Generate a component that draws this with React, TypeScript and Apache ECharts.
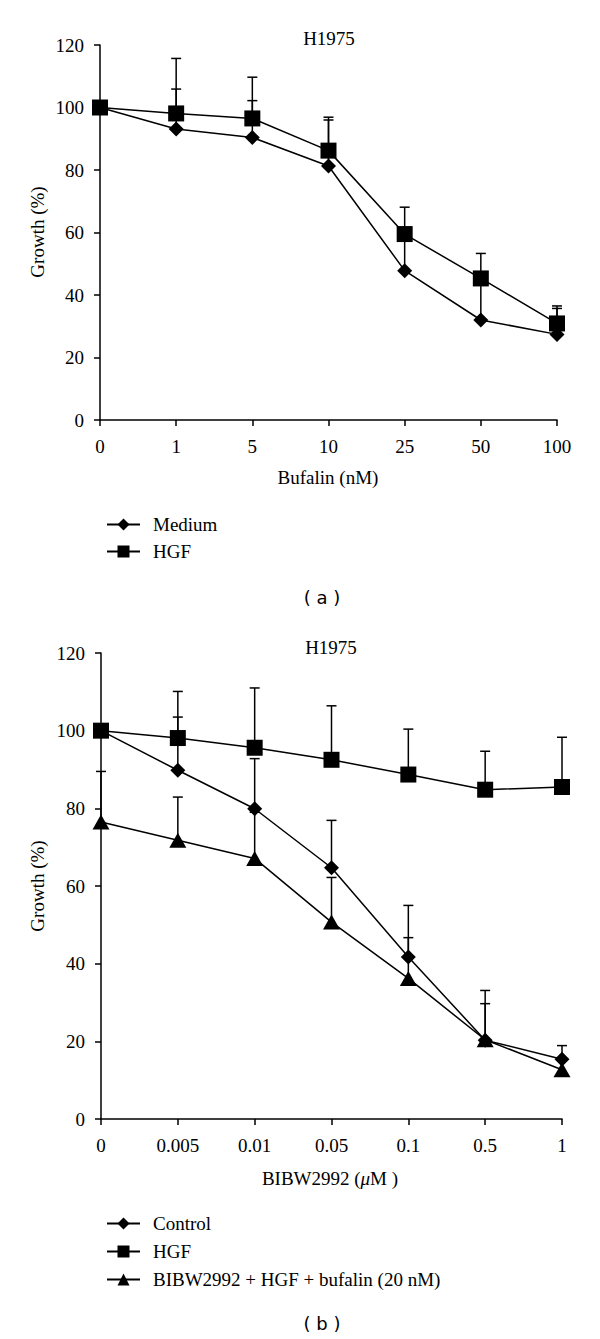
import React, { useEffect, useRef } from "react";
import * as echarts from "echarts";

const categoriesA = ["0", "1", "5", "10", "25", "50", "100"];
const mediumA = [100, 93.1, 90.4, 81.3, 47.8, 32.0, 27.4];
const hgfA = [100, 98.1, 96.5, 86.2, 59.5, 45.3, 30.9];
const mediumErrA = [null, 105.9, 102.2, 96.0, 60, 46, 35.7];
const hgfErrA = [null, 115.7, 109.7, 96.9, 68.1, 53.3, 36.5];

const categoriesB = ["0", "0.005", "0.01", "0.05", "0.1", "0.5", "1"];
const controlB = [100, 89.8, 79.9, 64.7, 41.7, 20.3, 15.4];
const hgfB = [100, 98.1, 95.6, 92.5, 88.7, 84.8, 85.5];
const comboB = [76.5, 71.8, 67.1, 50.7, 36.2, 20.4, 12.7];
const controlErrB = [null, 103.5, 92.8, 76.9, 55.0, 33.1, 18.9];
const hgfErrB = [null, 110.1, 111.0, 106.4, 100.4, 94.7, 98.3];
const comboErrB = [89.5, 82.9, 79, 62.2, 46.7, 29.7, null];

const yTicks = [0, 20, 40, 60, 80, 100, 120];

const SERIF = '"Liberation Serif", "Times New Roman", serif';
const FS = 19;

function errData(vals: number[], tops: (number | null)[]) {
  const out: any[] = [];
  vals.forEach((v, i) => {
    const t = tops[i];
    if (t != null) out.push([i, v, t]);
  });
  return out;
}

const renderErr = (params: any, api: any) => {
  const x = api.value(0);
  const v = api.value(1);
  const t = api.value(2);
  const p0 = api.coord([x, v]);
  const p1 = api.coord([x, t]);
  const st = { stroke: "#000", lineWidth: 1.5 };
  return {
    type: "group",
    children: [
      { type: "line", shape: { x1: p0[0], y1: p0[1], x2: p1[0], y2: p1[1] }, style: st },
      { type: "line", shape: { x1: p1[0] - 5, y1: p1[1], x2: p1[0] + 5, y2: p1[1] }, style: st },
    ],
  };
};

function lineSeries(name: string, data: number[], symbol: string, size: any, idx: number) {
  return {
    type: "line",
    name,
    data,
    xAxisIndex: idx,
    yAxisIndex: idx,
    symbol,
    symbolSize: size,
    showSymbol: true,
    itemStyle: { color: "#000" },
    lineStyle: { color: "#000", width: 1.5 },
    z: 3,
  };
}

function errSeries(vals: number[], tops: (number | null)[], idx: number) {
  return {
    type: "custom",
    xAxisIndex: idx,
    yAxisIndex: idx,
    renderItem: renderErr,
    data: errData(vals, tops),
    encode: { x: 0, y: [1, 2] },
    z: 2,
    silent: true,
  };
}

function xAxisCfg(cats: string[], idx: number) {
  return {
    type: "category",
    gridIndex: idx,
    data: cats,
    boundaryGap: false,
    axisLine: { lineStyle: { color: "#000", width: 1.5 } },
    axisTick: { show: true, length: 6, interval: 0, lineStyle: { color: "#000", width: 1.5 } },
    axisLabel: { color: "#000", fontFamily: SERIF, fontSize: FS, margin: 17, interval: 0 },
    splitLine: { show: false },
  };
}

function yAxisCfg(idx: number) {
  return {
    type: "value",
    gridIndex: idx,
    min: yTicks[0],
    max: yTicks[yTicks.length - 1],
    interval: 20,
    axisLine: { show: true, lineStyle: { color: "#000", width: 1.5 } },
    axisTick: { show: true, length: 6, lineStyle: { color: "#000", width: 1.5 } },
    axisLabel: { color: "#000", fontFamily: SERIF, fontSize: FS, margin: 16 },
    splitLine: { show: false },
  };
}

function txt(text: string, x: number, y: number, font: string, rotation = 0, rich?: any) {
  return {
    type: "text",
    x,
    y,
    rotation,
    style: {
      text,
      font,
      fill: "#000",
      textAlign: "center",
      textVerticalAlign: "middle",
      align: "center",
      verticalAlign: "middle",
      rich,
    },
  };
}

export default function App() {
  const ref = useRef<HTMLDivElement>(null);
  useEffect(() => {
    if (!ref.current) return;
    const chart = echarts.init(ref.current, undefined, { renderer: "svg" });
    const font = `${FS}px ${SERIF}`;
    chart.setOption({
      animation: false,
      backgroundColor: "#fff",
      grid: [
        { left: 100, right: 43, top: 45, height: 375 },
        { left: 101, right: 38, top: 653, height: 466 },
      ],
      xAxis: [xAxisCfg(categoriesA, 0), xAxisCfg(categoriesB, 1)],
      yAxis: [yAxisCfg(0), yAxisCfg(1)],
      legend: [
        {
          orient: "vertical",
          left: 101,
          top: 510,
          itemWidth: 33,
          itemHeight: 15,
          itemGap: 8,
          data: ["Medium", "HGF"],
          textStyle: { color: "#000", fontFamily: SERIF, fontSize: FS, padding: [0, 0, 0, 8] },
          selectedMode: false,
        },
        {
          orient: "vertical",
          left: 101,
          top: 1209,
          itemWidth: 33,
          itemHeight: 15,
          itemGap: 9,
          data: ["Control", "HGF", "BIBW2992 + HGF + bufalin (20 nM)"],
          textStyle: { color: "#000", fontFamily: SERIF, fontSize: FS, padding: [0, 0, 0, 8] },
          selectedMode: false,
        },
      ],
      graphic: [
        txt("H1975", 329, 38, font),
        txt("Growth (%)", 37, 232, font, Math.PI / 2),
        txt("Bufalin (nM)", 328, 477, font),
        txt("( a )", 322, 597, '18px "DejaVu Sans", sans-serif'),
        txt("H1975", 331, 647, font),
        txt("Growth (%)", 37, 886, font, Math.PI / 2),
        txt("{a|BIBW2992 (}{b|μ}{a|M )}", 330, 1178, font, 0, {
          a: { font, fill: "#000" },
          b: { font: `italic ${font}`, fill: "#000" },
        }),
        txt("( b )", 322, 1323, '18px "DejaVu Sans", sans-serif'),
      ],
      series: [
        errSeries(mediumA, mediumErrA, 0),
        errSeries(hgfA, hgfErrA, 0),
        lineSeries("Medium", mediumA, "diamond", [15, 15], 0),
        lineSeries("HGF", hgfA, "rect", 16, 0),
        errSeries(controlB, controlErrB, 1),
        errSeries(hgfB, hgfErrB, 1),
        errSeries(comboB, comboErrB, 1),
        lineSeries("Control", controlB, "diamond", [15, 15], 1),
        lineSeries("HGF", hgfB, "rect", 16, 1),
        lineSeries("BIBW2992 + HGF + bufalin (20 nM)", comboB, "triangle", [17, 15], 1),
      ],
    });
    return () => chart.dispose();
  }, []);
  return (
    <div
      ref={ref}
      style={{ position: "absolute", left: 0, top: 0, width: 600, height: 1339, background: "#fff" }}
    />
  );
}
